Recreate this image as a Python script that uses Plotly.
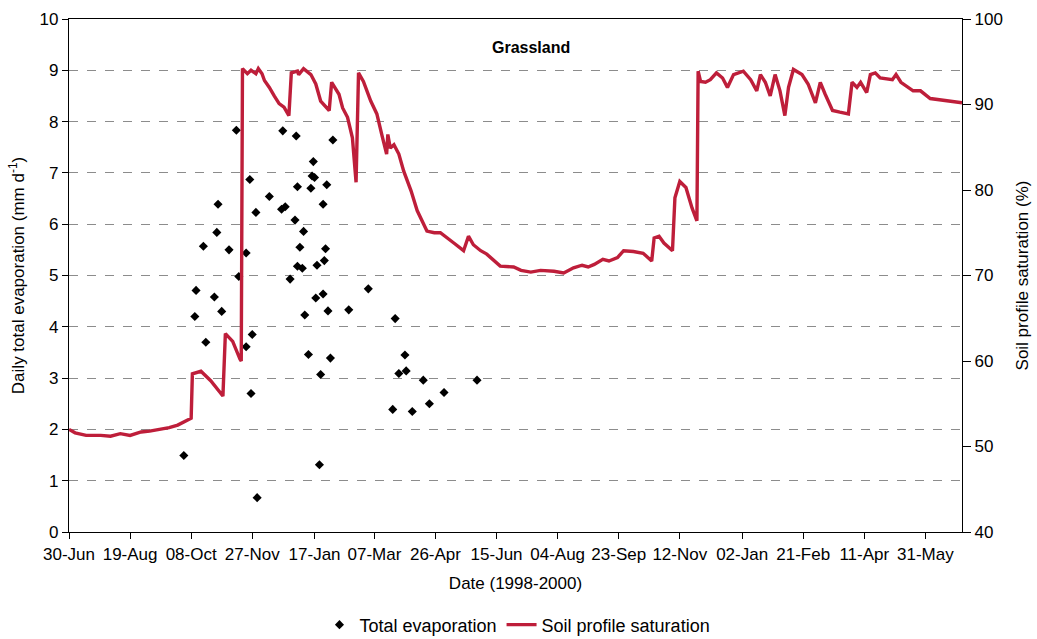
import plotly.graph_objects as go

# Daily total evaporation measurements (mm/day), left axis
evap_dates = [
    "1998-11-14", "1998-12-22", "1999-01-02", "1999-02-01", "1999-01-16",
    "1998-11-25", "1999-01-15", "1999-01-17", "1999-01-03", "1999-01-14",
    "1999-01-27", "1998-12-11", "1998-10-30", "1998-12-21", "1998-12-24",
    "1998-11-30", "1999-01-24", "1999-01-01", "1999-01-08", "1998-10-29",
    "1998-10-18", "1998-11-08", "1998-11-22", "1999-01-05", "1999-01-26",
    "1999-01-25", "1999-01-19", "1999-01-03", "1999-01-07", "1998-11-16",
    "1998-12-28", "1998-10-12", "1998-10-27", "1999-01-18", "1999-01-24",
    "1999-02-14", "1998-11-02", "1999-01-09", "1999-01-28", "1998-10-11",
    "1998-11-27", "1998-10-20", "1998-11-22", "1999-01-12", "1999-01-30",
    "1999-01-22", "1998-11-26", "1998-10-02", "1999-01-21", "1998-12-01",
    "1999-03-02", "1999-03-24", "1999-04-01", "1999-03-27", "1999-04-02",
    "1999-04-16", "1999-05-30", "1999-05-03", "1999-04-21", "1999-03-22",
    "1999-04-07",
]
evap_values = [
    7.83, 7.82, 7.72, 7.64, 7.22,
    6.87, 6.94, 6.91, 6.73, 6.70,
    6.77, 6.54, 6.39, 6.29, 6.34,
    6.23, 6.39, 6.08, 5.86, 5.84,
    5.57, 5.50, 5.44, 5.55, 5.52,
    5.29, 5.20, 5.18, 5.14, 4.98,
    4.93, 4.71, 4.58, 4.56, 4.64,
    4.33, 4.30, 4.23, 4.31, 4.20,
    3.85, 3.70, 3.61, 3.46, 3.39,
    3.07, 2.70, 1.49, 1.31, 0.67,
    4.74, 4.16, 3.45, 3.09, 3.14,
    2.96, 2.96, 2.72, 2.50, 2.39,
    2.35,
]

# Soil profile saturation (%), right axis
sat_dates = [
    "1998-06-30", "1998-07-05", "1998-07-14", "1998-07-26", "1998-08-03",
    "1998-08-11", "1998-08-19", "1998-08-28", "1998-09-04", "1998-09-12",
    "1998-09-20", "1998-09-27", "1998-10-04", "1998-10-08", "1998-10-09",
    "1998-10-16", "1998-10-24", "1998-11-03", "1998-11-05", "1998-11-11",
    "1998-11-17", "1998-11-18", "1998-11-19", "1998-11-23", "1998-11-26",
    "1998-11-30", "1998-12-02", "1998-12-05", "1998-12-07", "1998-12-11",
    "1998-12-15", "1998-12-19", "1998-12-23", "1998-12-27", "1998-12-29",
    "1999-01-03", "1999-01-04", "1999-01-08", "1999-01-14", "1999-01-18",
    "1999-01-22", "1999-01-29", "1999-01-31", "1999-02-06", "1999-02-09",
    "1999-02-13", "1999-02-17", "1999-02-20", "1999-02-22", "1999-02-26",
    "1999-03-04", "1999-03-09", "1999-03-13", "1999-03-17", "1999-03-18",
    "1999-03-20", "1999-03-23", "1999-03-27", "1999-03-31", "1999-04-06",
    "1999-04-11", "1999-04-19", "1999-04-25", "1999-04-30", "1999-05-11",
    "1999-05-19", "1999-05-23", "1999-05-27", "1999-06-02", "1999-06-07",
    "1999-06-18", "1999-06-29", "1999-07-05", "1999-07-13", "1999-07-21",
    "1999-08-01", "1999-08-09", "1999-08-17", "1999-08-24", "1999-08-29",
    "1999-09-03", "1999-09-10", "1999-09-15", "1999-09-22", "1999-09-27",
    "1999-10-05", "1999-10-13", "1999-10-20", "1999-10-22", "1999-10-26",
    "1999-10-30", "1999-11-06", "1999-11-08", "1999-11-12", "1999-11-17",
    "1999-11-22", "1999-11-26", "1999-11-27", "1999-11-29", "1999-12-03",
    "1999-12-07", "1999-12-12", "1999-12-17", "1999-12-21", "1999-12-26",
    "2000-01-03", "2000-01-09", "2000-01-14", "2000-01-17", "2000-01-21",
    "2000-01-25", "2000-01-29", "2000-02-02", "2000-02-06", "2000-02-09",
    "2000-02-13", "2000-02-20", "2000-02-25", "2000-03-02", "2000-03-06",
    "2000-03-10", "2000-03-16", "2000-03-22", "2000-03-29", "2000-04-01",
    "2000-04-05", "2000-04-08", "2000-04-13", "2000-04-16", "2000-04-20",
    "2000-04-24", "2000-05-04", "2000-05-07", "2000-05-11", "2000-05-21",
    "2000-05-27", "2000-06-04", "2000-06-20", "2000-06-30",
]
sat_values = [
    52.0, 51.6, 51.3, 51.3, 51.2,
    51.5, 51.3, 51.7, 51.8, 52.0,
    52.2, 52.5, 53.0, 53.3, 58.5,
    58.8, 57.7, 55.9, 63.2, 62.3,
    60.2, 60.0, 94.2, 93.6, 94.0,
    93.6, 94.2, 93.6, 92.8, 92.0,
    91.0, 90.1, 89.7, 88.7, 93.7,
    93.9, 93.5, 94.2, 93.5, 92.4,
    90.4, 89.3, 92.6, 91.2, 89.6,
    88.5, 86.1, 80.9, 93.7, 92.7,
    90.4, 88.9, 86.5, 84.2, 86.5,
    84.9, 85.3, 84.2, 82.2, 79.9,
    77.6, 75.2, 75.0, 75.0, 73.8,
    72.9, 74.6, 73.6, 72.9, 72.5,
    71.1, 71.0, 70.6, 70.4, 70.6,
    70.5, 70.3, 70.9, 71.2, 71.0,
    71.3, 71.9, 71.7, 72.1, 72.9,
    72.8, 72.6, 71.7, 74.4, 74.6,
    73.8, 72.9, 79.1, 81.0, 80.3,
    77.9, 76.4, 93.9, 92.7, 92.6,
    92.9, 93.7, 93.1, 92.0, 93.5,
    93.9, 92.9, 91.6, 93.5, 92.6,
    91.0, 93.5, 91.6, 88.7, 92.0,
    94.1, 93.5, 92.4, 90.2, 92.6,
    91.2, 89.3, 89.1, 88.9, 92.6,
    92.0, 92.6, 91.4, 93.5, 93.7,
    93.1, 92.9, 93.5, 92.6, 91.6,
    91.6, 90.7, 90.4, 90.2,
]

# Date axis ticks
tick_dates = [
    "1998-06-30", "1998-08-19", "1998-10-08", "1998-11-27", "1999-01-17",
    "1999-03-07", "1999-04-26", "1999-06-15", "1999-08-04", "1999-09-23",
    "1999-11-12", "2000-01-02", "2000-02-21", "2000-04-11", "2000-05-31",
]
tick_labels = [
    "30-Jun", "19-Aug", "08-Oct", "27-Nov", "17-Jan", "07-Mar", "26-Apr",
    "15-Jun", "04-Aug", "23-Sep", "12-Nov", "02-Jan", "21-Feb", "11-Apr",
    "31-May",
]

FONT = "Arial, Liberation Sans, sans-serif"

fig = go.Figure()

fig.add_trace(go.Scatter(
    x=evap_dates, y=evap_values, mode="markers",
    name="Total evaporation",
    marker=dict(symbol="diamond", size=7, color="black"),
    yaxis="y",
))

fig.add_trace(go.Scatter(
    x=sat_dates, y=sat_values, mode="lines",
    name="Soil profile saturation",
    line=dict(color="#BE1E3A", width=3.4),
    yaxis="y2",
))

fig.update_layout(
    width=1037, height=639,
    margin=dict(l=69, r=75, t=19, b=107, autoexpand=False),
    paper_bgcolor="white", plot_bgcolor="white",
    font=dict(family=FONT, size=17, color="black"),
    showlegend=True,
    legend=dict(
        orientation="h", xref="container", yref="container",
        x=0.499, xanchor="center", y=0.022, yanchor="middle",
        font=dict(size=18), itemwidth=30, bgcolor="rgba(0,0,0,0)",
    ),
    xaxis=dict(
        type="date", range=["1998-06-30", "2000-06-30"],
        tickvals=tick_dates, ticktext=tick_labels, tickangle=0,
        showline=True, linecolor="black", linewidth=1.2, mirror=True,
        ticks="outside", ticklen=6, tickcolor="black",
        showgrid=False, zeroline=False, automargin=False,
        title=dict(text="Date (1998-2000)", standoff=14, font=dict(size=17)),
    ),
    yaxis=dict(
        range=[0, 10], dtick=1, tick0=0,
        showline=True, linecolor="black", linewidth=1.2,
        ticks="outside", ticklen=6, tickcolor="black",
        showgrid=True, gridcolor="#8c8c8c", gridwidth=1, griddash="dash",
        zeroline=False, automargin=False,
        title=dict(text="Daily total evaporation (mm d<sup>-1</sup>)",
                   standoff=10, font=dict(size=17)),
    ),
    yaxis2=dict(
        range=[40, 100], dtick=10, tick0=40,
        overlaying="y", side="right",
        showline=True, linecolor="black", linewidth=1.2,
        ticks="outside", ticklen=8, tickcolor="black",
        showgrid=False, zeroline=False, automargin=False,
        title=dict(text="Soil profile saturation (%)", standoff=14,
                   font=dict(size=17)),
    ),
    annotations=[dict(
        text="<b>Grassland</b>", xref="paper", yref="paper",
        x=0.517, y=0.945, showarrow=False, font=dict(size=16),
        xanchor="center", yanchor="middle",
    )],
)

fig.write_html("out.html")
